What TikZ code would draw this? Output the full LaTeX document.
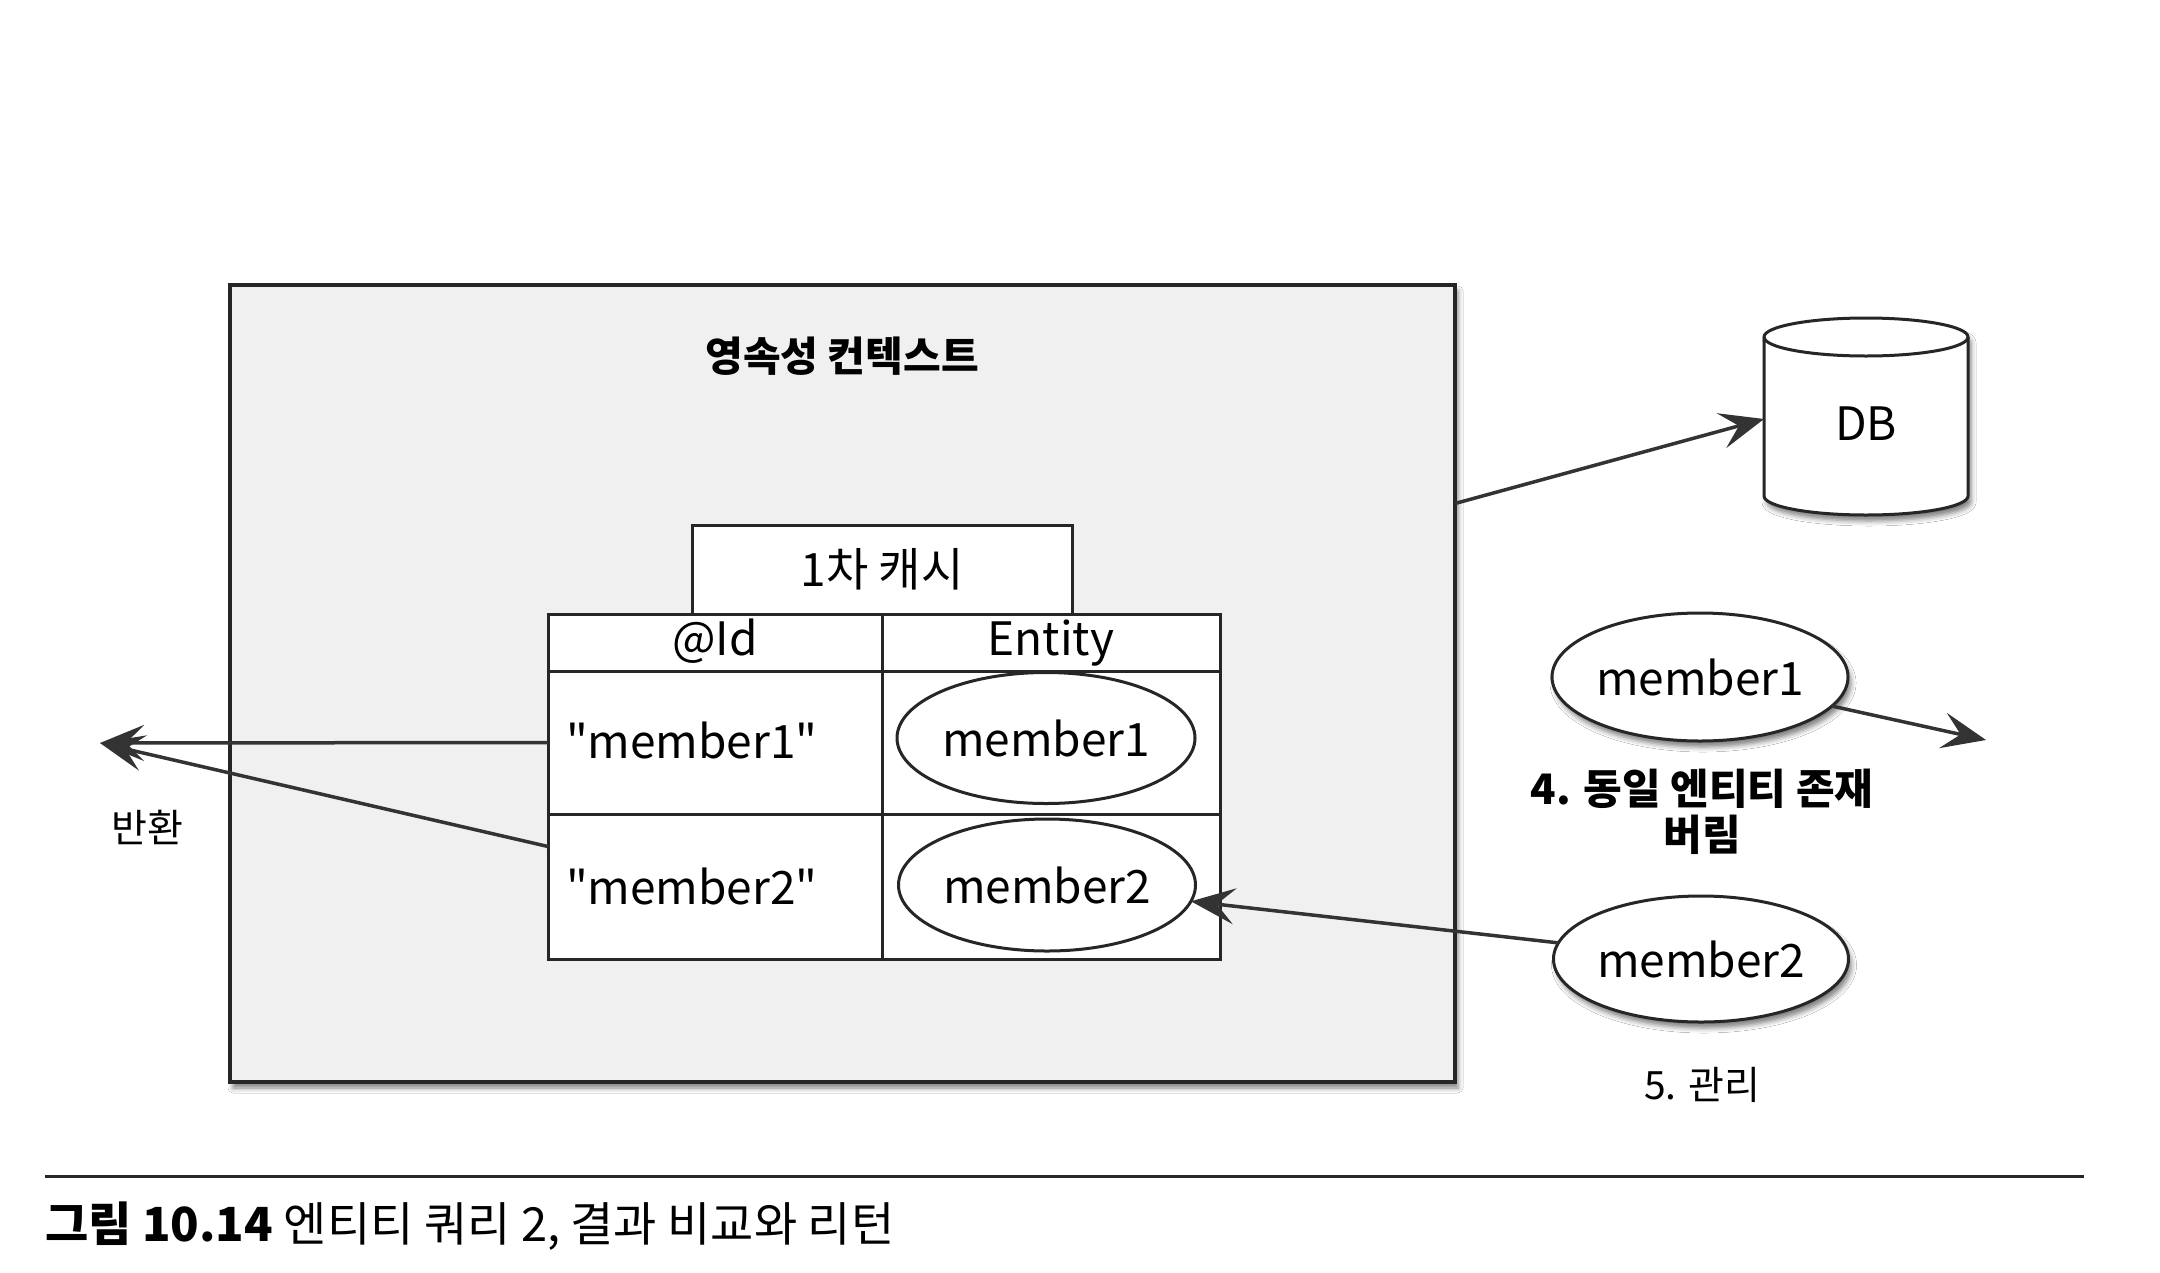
\documentclass[tikz,border=0pt]{standalone}
\usepackage{fontspec}
\setmainfont{Noto Sans CJK KR}
\newfontfamily\qfont{Noto Sans CJK KR}
\usetikzlibrary{shapes.geometric,shadows,shadows.blur,arrows.meta,calc}
\begin{document}
\begin{tikzpicture}[x=1pt,y=-1pt,
  every node/.style={inner sep=0pt, outer sep=0pt},
  frame/.style={draw=black!85, line width=3.5pt},
  cellbox/.style={draw=black!85, line width=3pt, fill=white, rectangle},
  oval/.style={ellipse, draw=black!85, line width=3pt, fill=white},
  shad/.style={blur shadow={shadow xshift=3pt, shadow yshift=-6pt, shadow blur radius=5pt, shadow opacity=50}},
  arr/.style={line width=3.5pt, draw=black!80, -{Stealth[length=44pt,width=36pt,inset=18pt]}},
  txt/.style={font=\fontsize{46pt}{52pt}\selectfont},
  lbl/.style={font=\fontsize{39pt}{45pt}\selectfont},
  blbl/.style={font=\bfseries\fontsize{42pt}{46pt}\selectfont}
]
\fill[white] (0,0) rectangle (2160,1272);
\useasboundingbox (0,0) rectangle (2160,1272);

% persistence context
\node[frame, fill=black!6, rectangle, minimum width=1225pt, minimum height=797pt, shad] (outer) at (842.5,683.5) {};
\node[font=\bfseries\fontsize{41pt}{45pt}\selectfont] (title) at (842,356) {영속성 컨텍스트};

% first-level cache
\node[cellbox, minimum width=380pt, minimum height=89pt, txt] (cache) at (882,569.5) {1차 캐시};
\node[cellbox, minimum width=334pt, minimum height=57pt, txt, text height=34pt, text depth=8pt] (hid) at (715,642.5) {@Id};
\node[cellbox, minimum width=338pt, minimum height=57pt, txt, text height=34pt, text depth=8pt] (hent) at (1051,642.5) {Entity};
\node[cellbox, minimum width=334pt, minimum height=143pt] (r1c1) at (715,742.5) {};
\node[cellbox, minimum width=338pt, minimum height=143pt] (r1c2) at (1051,742.5) {};
\node[cellbox, minimum width=334pt, minimum height=145pt] (r2c1) at (715,886.5) {};
\node[cellbox, minimum width=338pt, minimum height=145pt] (r2c2) at (1051,886.5) {};
\node[txt, anchor=west] (k1) at (566,740) {\qfont"member1"};
\node[txt, anchor=west] (k2) at (566,886) {\qfont"member2"};
\node[oval, minimum width=298pt, minimum height=131pt, txt] (m1) at (1046,738) {member1};
\node[oval, minimum width=297pt, minimum height=132pt, txt] (m2) at (1047,885) {member2};

% DB cylinder
\path[fill=white, draw=black!85, line width=3pt, shad]
  (1764,337) -- (1764,496) arc[start angle=180, end angle=360, x radius=102pt, y radius=19pt]
  -- (1968,337) arc[start angle=0, end angle=180, x radius=102pt, y radius=19pt] -- cycle;
\draw[black!85, line width=3pt] (1764,337) arc[start angle=180, end angle=360, x radius=102pt, y radius=19pt];
\node[txt, minimum width=204pt, minimum height=160pt] (db) at (1866,424) {DB};

% right side entities
\node[oval, minimum width=296pt, minimum height=128pt, txt, shad] (m1r) at (1700,677) {member1};
\node[oval, minimum width=295pt, minimum height=126pt, txt, shad] (m2r) at (1701,959) {member2};
\node[blbl, align=center] (drop) at (1702,812) {4. 동일 엔티티 존재\\버림};
\node[lbl] (manage) at (1702,1085) {5. 관리};

% connectors
\coordinate (ret) at (100,743);
\coordinate (out) at (1986,740);
\draw[arr] ([yshift=180pt]outer.east) -- ([yshift=5pt]db.west);
\draw[arr] (r1c1.west) -- (ret);
\draw[arr] ([yshift=40pt]r2c1.west) -- (ret);
\draw[arr] (m1r) -- (out);
\draw[arr] (m2r) -- (m2);
\node[lbl] (ban) at (147,827) {반환};

% caption
\coordinate (cl) at (45,1176);
\coordinate (cr) at (2084,1176);
\draw[black!85, line width=3pt] (cl) -- (cr);
\node[anchor=west, font=\fontsize{47pt}{50pt}\selectfont] (cap) at (45,1226) {\textbf{그림 10.14} 엔티티 쿼리 2, 결과 비교와 리턴};
\end{tikzpicture}
\end{document}
